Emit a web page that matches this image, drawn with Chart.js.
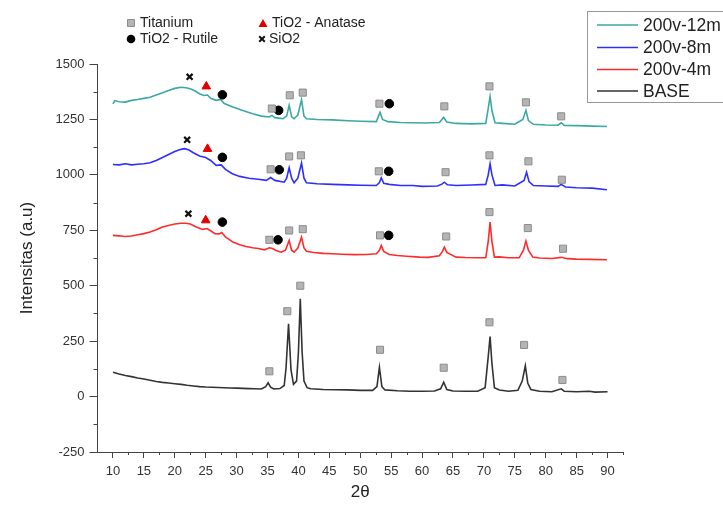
<!DOCTYPE html>
<html>
<head>
<meta charset="utf-8">
<script src="https://cdn.jsdelivr.net/npm/chart.js@4.4.0/dist/chart.umd.min.js"></script>
<style>
  body { margin: 0; background: #fff; }
  #wrap { width: 723px; height: 509px; }
</style>
</head>
<body>
<div id="wrap"><canvas id="chart" width="723" height="509"></canvas></div>
<script>
// series names / colours (legend order)
const seriesNames = ['200v-12m', '200v-8m', '200v-4m', 'BASE'];
const seriesColors = ['#3aa9a3', '#2e2eff', '#ff2a2a', '#333333'];

// [2theta, intensity]
const s12m = [[10,1320],[10.3,1335],[11,1330],[12,1328],[13,1336],[14,1340],[15,1345],[16,1350],[17,1360],[18,1370],[19,1380],[20,1390],[21,1395],[21.8,1393],[22.5,1388],[23.3,1378],[24,1366],[24.7,1358],[25.3,1360],[25.8,1345],[26.7,1336],[27.4,1340],[28,1322],[29.4,1306],[31,1290],[32.6,1276],[34,1265],[35.3,1261],[35.7,1268],[36.2,1258],[37.5,1253],[38.1,1265],[38.5,1314],[38.9,1262],[39.3,1253],[39.9,1270],[40.5,1339],[40.9,1265],[41.3,1253],[43,1250],[45.5,1248],[48,1244],[50,1242],[52.6,1240],[53.2,1282],[53.6,1250],[54.5,1240],[56.5,1236],[58.5,1235],[60.5,1234],[62.8,1236],[63.5,1259],[64,1238],[65.5,1232],[68,1230],[70.3,1232],[70.7,1300],[71.0,1354],[71.3,1290],[71.8,1235],[73,1232],[75,1228],[76.3,1250],[76.8,1291],[77.2,1245],[78,1228],[80,1225],[82,1224],[82.5,1235],[83,1223],[85,1222],[87.5,1220],[89.9,1218]];
const s8m = [[10,1047],[11,1045],[12,1050],[13,1045],[14,1048],[15,1050],[16,1055],[17,1065],[18,1078],[19,1092],[20,1105],[21,1115],[21.6,1118],[22.3,1112],[23,1100],[24,1085],[25,1078],[25.8,1065],[26.7,1043],[27.5,1045],[28.2,1025],[29.3,1005],[30.5,993],[32,985],[33.5,980],[34.8,975],[35.5,988],[36.2,975],[37.7,967],[38.1,985],[38.5,1032],[38.9,985],[39.3,964],[39.9,985],[40.5,1053],[40.9,985],[41.3,964],[43,960],[45.5,957],[48,955],[50,953],[52.6,952],[53.1,965],[53.4,987],[53.8,962],[54.7,957],[56.5,952],[58.5,952],[60,948],[62.5,950],[63.2,958],[63.6,967],[64.1,955],[65.5,952],[68,954],[70.3,957],[70.7,1000],[71.0,1050],[71.3,1000],[71.8,952],[73,955],[75,950],[76.5,975],[76.9,1012],[77.3,970],[78,952],[80,950],[82,948],[82.5,957],[83.2,945],[85,942],[87.5,940],[89.9,933]];
const s4m = [[10,727],[11,725],[12,722],[13,724],[14,730],[15,735],[16,742],[17,752],[18,765],[19,772],[20,778],[21,782],[21.8,782],[22.5,778],[23.5,765],[24.5,754],[25.2,758],[25.8,748],[26.5,735],[27.2,734],[27.6,740],[28.2,720],[29.4,697],[30.5,685],[31.5,677],[32.6,671],[33.5,668],[34.5,662],[35.3,671],[35.8,668],[36.3,660],[37.2,651],[37.9,660],[38.5,704],[38.9,660],[39.3,651],[39.9,670],[40.5,719],[40.9,670],[41.3,655],[42.5,650],[44,646],[45.5,644],[47,642],[49,640],[51,641],[52.6,644],[53.1,660],[53.4,682],[53.8,655],[54.7,641],[56,636],[57.5,633],[59.6,629],[61,628],[62.8,635],[63.3,655],[63.6,674],[64,650],[65.5,629],[67,627],[69,626],[70.3,626],[70.7,700],[71.0,787],[71.3,700],[71.7,629],[72.5,630],[74,626],[75.7,626],[76.4,660],[76.8,701],[77.2,660],[77.9,629],[79,625],[81,623],[82.5,628],[83.5,622],[85,620],[87,619],[89.9,617]];
const sBase = [[10,110],[11,102],[12,95],[13,90],[14,84],[15,79],[16,74],[17,68],[18,64],[19,61],[20,58],[21,55],[22,51],[23,48],[24,45],[25,43],[26,42],[27,41],[28,40],[29,39],[30,38],[31,37],[32,36],[33,35],[34,34],[34.7,45],[35.1,62],[35.5,42],[36,34],[37,36],[37.7,50],[38.0,130],[38.4,328],[38.8,120],[39.2,55],[39.7,70],[40.0,200],[40.3,441],[40.6,200],[40.9,70],[41.4,40],[42,35],[44,32],[46,31],[48,30],[50,28],[52,28],[52.7,45],[53.1,132],[53.5,45],[54,30],[56,26],[58,24],[60,24],[62,25],[63,35],[63.5,65],[64,32],[65,25],[67,24],[69,24],[70.2,40],[70.7,180],[71.0,271],[71.3,150],[71.7,40],[72.5,30],[74,24],[75.5,28],[76.2,70],[76.7,139],[77.1,60],[77.6,32],[79,24],[81,22],[82.5,35],[83,24],[85,22],[87,24],[88,20],[90,22]];

// phase markers
const titanium = [[35.3,114],[38.2,385],[40.3,500],[53.2,211],[63.5,130],[70.9,335],[76.5,233],[82.7,75],
  [35.3,707],[38.5,749],[40.7,755],[53.2,727],[63.9,722],[70.9,832],[77.1,760],[82.8,667],
  [35.5,1025],[38.5,1083],[40.4,1088],[53,1016],[63.8,1012],[70.9,1088],[77.2,1061],[82.6,978],
  [35.7,1299],[38.6,1359],[40.7,1371],[53.1,1321],[63.6,1309],[70.9,1399],[76.8,1327],[82.5,1264]];
const rutile = [[27.7,787],[36.7,707],[54.6,727],[27.7,1079],[36.9,1023],[54.6,1016],[27.7,1361],[36.8,1291],[54.7,1321]];
const anatase = [[25,795],[25.3,1117],[25.1,1399]];
const sio2 = [[22.2,825],[22,1158],[22.4,1442]];
const phaseNames = ['Titanium', 'TiO2 - Anatase', 'TiO2 - Rutile', 'SiO2'];

const xTicks = [10,15,20,25,30,35,40,45,50,55,60,65,70,75,80,85,90];
const yTicks = [-250,0,250,500,750,1000,1250,1500];

const pts = arr => arr.map(p => ({x: p[0], y: p[1]}));
const FONT = '"Liberation Sans", Arial, sans-serif';

function markerSet(label, arr, style, fill, border, r, bw) {
  return { label, data: pts(arr), showLine: false, pointStyle: style, pointRadius: r,
    pointBackgroundColor: fill, pointBorderColor: border, pointBorderWidth: bw };
}

const lineSets = [s12m, s8m, s4m, sBase].map((arr, i) => ({
  label: seriesNames[i], data: pts(arr), showLine: true, borderColor: seriesColors[i],
  borderWidth: 1.6, pointRadius: 0, fill: false
}));

const datasets = [
  markerSet('Titanium', titanium, 'rect', '#b4b4b4', '#8c8c8c', 5, 1),
  markerSet('TiO2 - Rutile', rutile, 'circle', '#000', '#000', 4.3, 1),
  markerSet('TiO2 - Anatase', anatase, 'triangle', '#e00000', '#e00000', 5, 1),
  markerSet('SiO2', sio2, 'crossRot', '#111', '#111', 4.2, 2.2),
  ...lineSets
];

function drawSym(ctx, kind, x, y) {
  ctx.beginPath();
  if (kind === 0) { ctx.fillStyle = '#b4b4b4'; ctx.strokeStyle = '#8c8c8c'; ctx.rect(x - 3.5, y - 3.5, 7, 7); ctx.fill(); ctx.stroke(); }
  if (kind === 1) { ctx.fillStyle = '#e00000'; ctx.moveTo(x, y - 5); ctx.lineTo(x + 4.5, y + 3); ctx.lineTo(x - 4.5, y + 3); ctx.closePath(); ctx.fill(); }
  if (kind === 2) { ctx.fillStyle = '#000'; ctx.arc(x, y, 4.3, 0, Math.PI * 2); ctx.fill(); }
  if (kind === 3) { ctx.strokeStyle = '#111'; ctx.lineWidth = 2; ctx.moveTo(x - 2.8, y - 2.8); ctx.lineTo(x + 2.8, y + 2.8); ctx.moveTo(x + 2.8, y - 2.8); ctx.lineTo(x - 2.8, y + 2.8); ctx.stroke(); ctx.lineWidth = 1; }
}

const overlay = {
  id: 'overlay',
  afterDraw(chart) {
    const ctx = chart.ctx, xs = chart.scales.x, ys = chart.scales.y, area = chart.chartArea;
    ctx.save();
    // minor ticks
    ctx.strokeStyle = '#444'; ctx.lineWidth = 1; ctx.beginPath();
    for (let v = 12.5; v <= 92.5; v += 5) {
      const px = Math.round(xs.getPixelForValue(v)) + 0.5;
      ctx.moveTo(px, area.bottom); ctx.lineTo(px, area.bottom + 3);
    }
    for (let v = -125; v < 1500; v += 250) {
      const py = Math.round(ys.getPixelForValue(v)) + 0.5;
      ctx.moveTo(area.left, py); ctx.lineTo(area.left - 4, py);
    }
    ctx.stroke();

    // phase key, top left
    ctx.font = '14px ' + FONT; ctx.textBaseline = 'middle';
    const key = [[131, 23, 140], [263, 24, 272], [131, 39, 140], [262, 39, 269]];
    key.forEach((k, i) => {
      ctx.lineWidth = 1;
      drawSym(ctx, i, k[0], k[1]);
      ctx.fillStyle = '#222';
      ctx.fillText(phaseNames[i], k[2], k[1] + (i === 1 ? -1 : 0));
    });

    // series legend box, top right
    ctx.strokeStyle = '#999'; ctx.lineWidth = 1;
    ctx.strokeRect(587.5, 11.5, 150, 91);
    ctx.font = '17.5px ' + FONT;
    const rows = [25, 47.5, 69.5, 91];
    seriesNames.forEach((n, i) => {
      ctx.strokeStyle = seriesColors[i]; ctx.lineWidth = 1.5;
      ctx.beginPath(); ctx.moveTo(597, rows[i]); ctx.lineTo(638, rows[i]); ctx.stroke();
      ctx.fillStyle = '#222'; ctx.fillText(n, 643, rows[i] + 1);
    });
    ctx.restore();
  }
};

new Chart(document.getElementById('chart'), {
  type: 'scatter',
  data: { datasets },
  options: {
    responsive: false,
    animation: false,
    layout: { padding: { top: 64, right: 100, left: 0, bottom: 0 } },
    plugins: { legend: { display: false }, tooltip: { enabled: false } },
    scales: {
      x: {
        type: 'linear', min: 7.5, max: 92.5,
        afterBuildTicks: s => { s.ticks = xTicks.map(v => ({ value: v })); },
        afterFit: s => { s.height = 57; },
        grid: { display: true, drawOnChartArea: false, drawTicks: true, tickLength: 6, color: '#444' },
        border: { display: true, color: '#444', width: 1 },
        ticks: { font: { size: 13, family: FONT }, color: '#333', padding: 6, maxRotation: 0, callback: v => String(v) },
        title: { display: true, text: '2θ', font: { size: 17, family: FONT }, color: '#222', padding: { top: 0, bottom: 6 } }
      },
      y: {
        type: 'linear', min: -250, max: 1500,
        afterBuildTicks: s => { s.ticks = yTicks.map(v => ({ value: v })); },
        afterFit: s => { s.width = 97.5; },
        grid: { display: true, drawOnChartArea: false, drawTicks: true, tickLength: 8, color: '#444' },
        border: { display: true, color: '#444', width: 1 },
        ticks: { font: { size: 13, family: FONT }, color: '#333', padding: 5, callback: v => String(v) },
        title: { display: true, text: 'Intensitas (a.u)', font: { size: 17, family: FONT }, color: '#222', padding: { top: 17, bottom: 0 } }
      }
    }
  },
  plugins: [overlay]
});
</script>
</body>
</html>
